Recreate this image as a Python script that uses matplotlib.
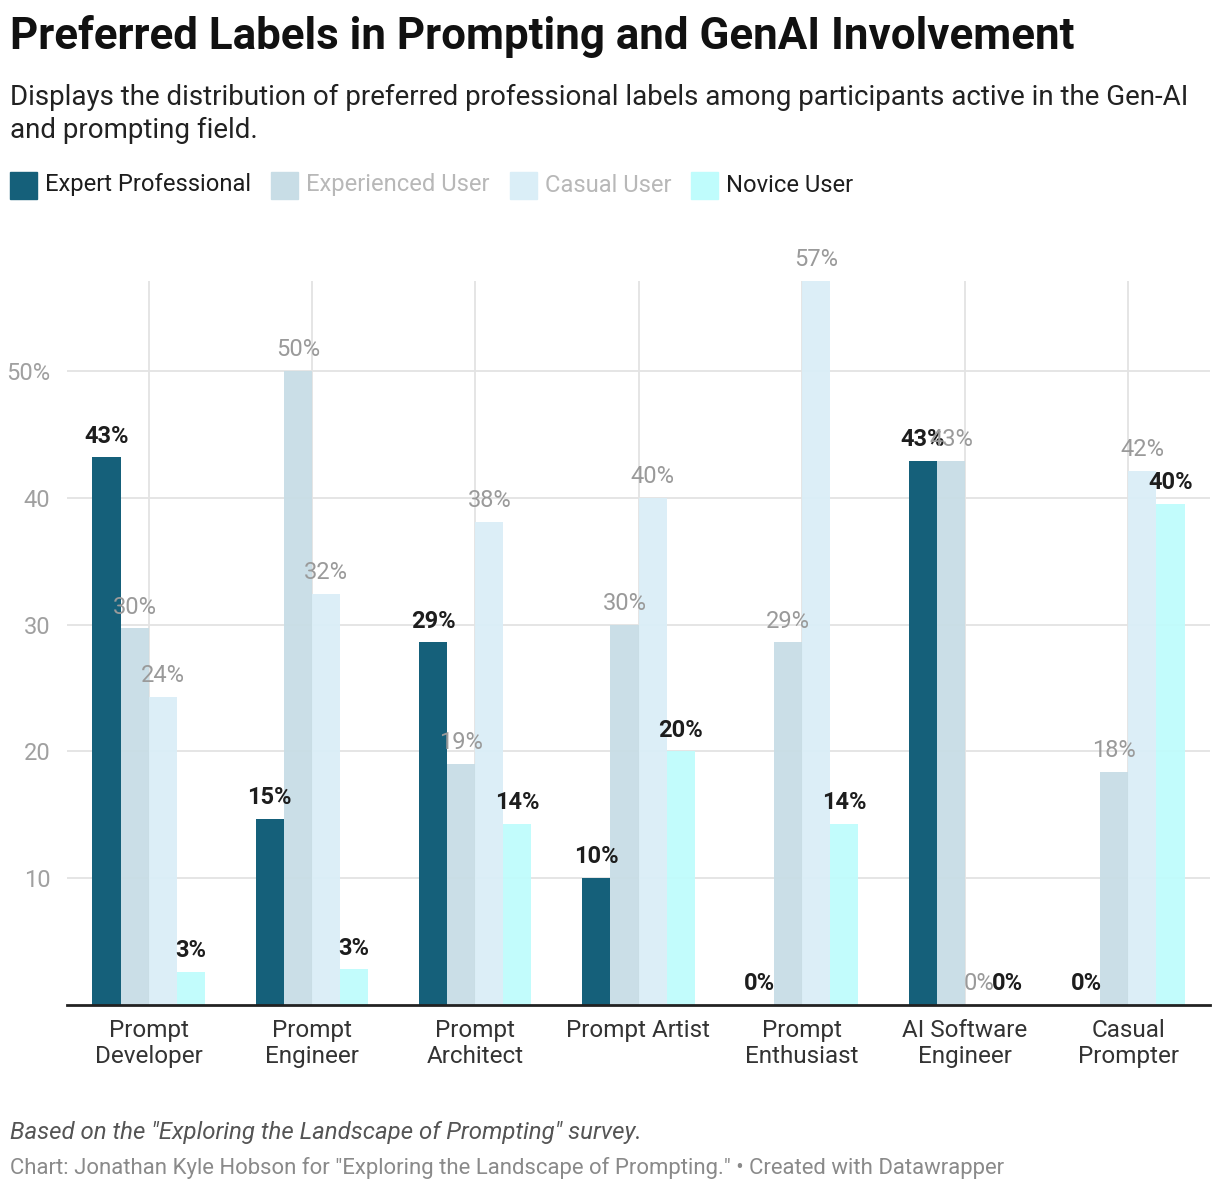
import numpy as np
import matplotlib
matplotlib.use("Agg")
import matplotlib.pyplot as plt
from matplotlib.patches import Rectangle

plt.rcParams["font.family"] = ["Roboto", "DejaVu Sans"]

categories = [
    "Prompt\nDeveloper",
    "Prompt\nEngineer",
    "Prompt\nArchitect",
    "Prompt Artist",
    "Prompt\nEnthusiast",
    "AI Software\nEngineer",
    "Casual\nPrompter",
]
series_names = ["Expert Professional", "Experienced User", "Casual User", "Novice User"]
expert = [43.2, 14.7, 28.6, 10.0, 0.0, 42.9, 0.0]
experienced = [29.7, 50.0, 19.0, 30.0, 28.6, 42.9, 18.4]
casual = [24.3, 32.4, 38.1, 40.0, 57.1, 0.0, 42.1]
novice = [2.6, 2.8, 14.3, 20.0, 14.3, 0.0, 39.5]
yticks = [10, 20, 30, 40, 50]
ytick_labels = ["10", "20", "30", "40", "50%"]

colors = ["#15607a", "#c8dde6", "#daeef7", "#bffcfc"]
label_styles = [
    dict(color="#1d1d1d", fontweight="bold"),
    dict(color="#9a9a9a", fontweight="normal"),
    dict(color="#9a9a9a", fontweight="normal"),
    dict(color="#1d1d1d", fontweight="bold"),
]
legend_text_colors = ["#1d1d1d", "#b8b8b8", "#b8b8b8", "#1d1d1d"]

W, H = 1220, 1194
fig = plt.figure(figsize=(W / 100, H / 100), dpi=100)

ax = fig.add_axes([67 / W, 1 - 1005 / H, (1210 - 67) / W, (1005 - 281) / H])

all_series = [expert, experienced, casual, novice]
x = np.arange(len(categories))
width = 0.172
offsets = [-1.5, -0.5, 0.5, 1.5]

for vals, off, col, style in zip(all_series, offsets, colors, label_styles):
    ax.bar(x + off * width, vals, width, color=col, zorder=2,
           alpha=1 if col == colors[0] else 0.95)
    for xi, v in zip(x, vals):
        ax.annotate(
            f"{v:.0f}%",
            (xi + off * width, v),
            xytext=(0, 7),
            textcoords="offset points",
            ha="center",
            va="bottom",
            fontsize=17,
            zorder=4,
            **style,
        )

ax.set_xlim(-0.5, len(categories) - 0.5)
ax.set_ylim(0, 57.1)
ax.set_yticks(yticks)
ax.set_yticklabels(ytick_labels)
ax.set_xticks(x)
ax.set_xticklabels(categories, fontsize=17.5, color="#333333", linespacing=1.2)

ax.grid(axis="both", color="#e3e3e3", linewidth=1.3, zorder=1)
ax.set_axisbelow(True)
for s in ["top", "right", "left"]:
    ax.spines[s].set_visible(False)
ax.spines["bottom"].set_color("#222222")
ax.spines["bottom"].set_linewidth(2)
ax.spines["bottom"].set_zorder(5)
ax.tick_params(axis="x", length=0, pad=10)
ax.tick_params(axis="y", length=0, pad=12, labelsize=17, labelcolor="#a0a0a0")

# title block
fig.text(10 / W, 1 - 36 / H, "Preferred Labels in Prompting and GenAI Involvement",
         fontsize=31.6, fontweight="bold", color="#111111", va="center", ha="left")
fig.text(10 / W, 1 - 114 / H,
         "Displays the distribution of preferred professional labels among participants active in the Gen-AI\nand prompting field.",
         fontsize=20, color="#222222", va="center", ha="left", linespacing=1.25)

# legend
lx = 10
for name, col, tcol in zip(series_names, colors, legend_text_colors):
    fig.patches.append(Rectangle((lx / W, 1 - 199 / H), 27 / W, 27 / H,
                                 transform=fig.transFigure, color=col, figure=fig))
    t = fig.text((lx + 35) / W, 1 - 185 / H, name, fontsize=17.1, color=tcol,
                 va="center", ha="left")
    fig.canvas.draw()
    bb = t.get_window_extent()
    lx = bb.x1 + 20

# footer
fig.text(10 / W, 1 - 1132 / H, 'Based on the "Exploring the Landscape of Prompting" survey.',
         fontsize=17.3, style="italic", color="#555555", va="center", ha="left")
fig.text(10 / W, 1 - 1168 / H,
         'Chart: Jonathan Kyle Hobson for "Exploring the Landscape of Prompting." \u2022 Created with Datawrapper',
         fontsize=15.9, color="#8a8a8a", va="center", ha="left")

fig.savefig("out.png", dpi=100, facecolor="white")
